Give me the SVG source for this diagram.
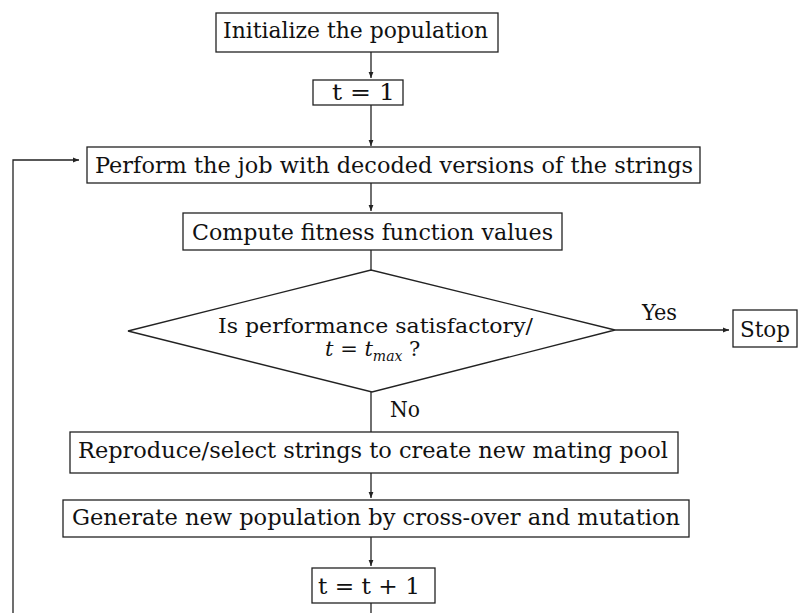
<svg xmlns="http://www.w3.org/2000/svg" width="798" height="613" viewBox="0 0 798 613">
<style>
.box{fill:#fff;stroke:#222;stroke-width:1.3}
.t{font-family:'DejaVu Serif','Liberation Serif',serif;font-size:23px;fill:#111}
.d{font-size:21px}
.ln{fill:none;stroke:#222;stroke-width:1.3}
</style>
<defs>
<marker id="ah" viewBox="0 0 10 10" refX="10" refY="5" markerWidth="6" markerHeight="6" orient="auto" markerUnits="userSpaceOnUse">
<path d="M0,1 L10,5 L0,9 z" fill="#222"/>
</marker>
</defs>
<rect width="798" height="613" fill="#fff"/>
<g id="connectors">
<line class="ln" x1="371" y1="52" x2="371" y2="78" marker-end="url(#ah)"/>
<line class="ln" x1="371" y1="105" x2="371" y2="146" marker-end="url(#ah)"/>
<line class="ln" x1="371" y1="183" x2="371" y2="211" marker-end="url(#ah)"/>
<line class="ln" x1="371" y1="250" x2="371" y2="270"/>
<line class="ln" x1="371" y1="392" x2="371" y2="432"/>
<line class="ln" x1="371" y1="473" x2="371" y2="498" marker-end="url(#ah)"/>
<line class="ln" x1="371" y1="537" x2="371" y2="566" marker-end="url(#ah)"/>
<line class="ln" x1="371" y1="603" x2="371" y2="613"/>
<line class="ln" x1="615" y1="330" x2="729" y2="330" marker-end="url(#ah)"/>
<polyline class="ln" points="13,613 13,160 79,160" marker-end="url(#ah)"/>
<text class="t" x="642" y="320" textLength="35" lengthAdjust="spacingAndGlyphs">Yes</text>
<text class="t" x="390" y="417" textLength="30" lengthAdjust="spacingAndGlyphs">No</text>
</g>
<g id="init">
<rect class="box" x="216" y="13" width="282" height="39"/>
<text class="t" x="223" y="38" textLength="265" lengthAdjust="spacingAndGlyphs">Initialize the population</text>
</g>
<g id="t1">
<rect class="box" x="313" y="80" width="90" height="25"/>
<text class="t" x="332" y="100" textLength="63" lengthAdjust="spacingAndGlyphs">t = 1</text>
</g>
<g id="perform">
<rect class="box" x="87" y="147" width="613" height="36"/>
<text class="t" x="95" y="173" textLength="598" lengthAdjust="spacingAndGlyphs">Perform the job with decoded versions of the strings</text>
</g>
<g id="compute">
<rect class="box" x="183" y="213" width="379" height="37"/>
<text class="t" x="192" y="240" textLength="361" lengthAdjust="spacingAndGlyphs">Compute fitness function values</text>
</g>
<g id="decision">
<polygon class="box" points="128,331 371,270 615,330 372,392"/>
<text class="t d" x="218" y="333" textLength="315" lengthAdjust="spacingAndGlyphs">Is performance satisfactory/</text>
<text class="t d" x="325" y="356"><tspan font-style="italic">t</tspan> = <tspan font-style="italic">t</tspan><tspan font-style="italic" font-size="14" dy="5">max</tspan><tspan dy="-5"> ?</tspan></text>
</g>
<g id="stop">
<rect class="box" x="733" y="310" width="64" height="37"/>
<text class="t" x="740" y="337" textLength="50" lengthAdjust="spacingAndGlyphs">Stop</text>
</g>
<g id="reproduce">
<rect class="box" x="70" y="432" width="608" height="41"/>
<text class="t" x="78" y="458" textLength="590" lengthAdjust="spacingAndGlyphs">Reproduce/select strings to create new mating pool</text>
</g>
<g id="generate">
<rect class="box" x="63" y="500" width="626" height="37"/>
<text class="t" x="72" y="525" textLength="608" lengthAdjust="spacingAndGlyphs">Generate new population by cross-over and mutation</text>
</g>
<g id="tinc">
<rect class="box" x="312" y="568" width="123" height="35"/>
<text class="t" x="318" y="594" textLength="102" lengthAdjust="spacingAndGlyphs">t = t + 1</text>
</g>
</svg>
